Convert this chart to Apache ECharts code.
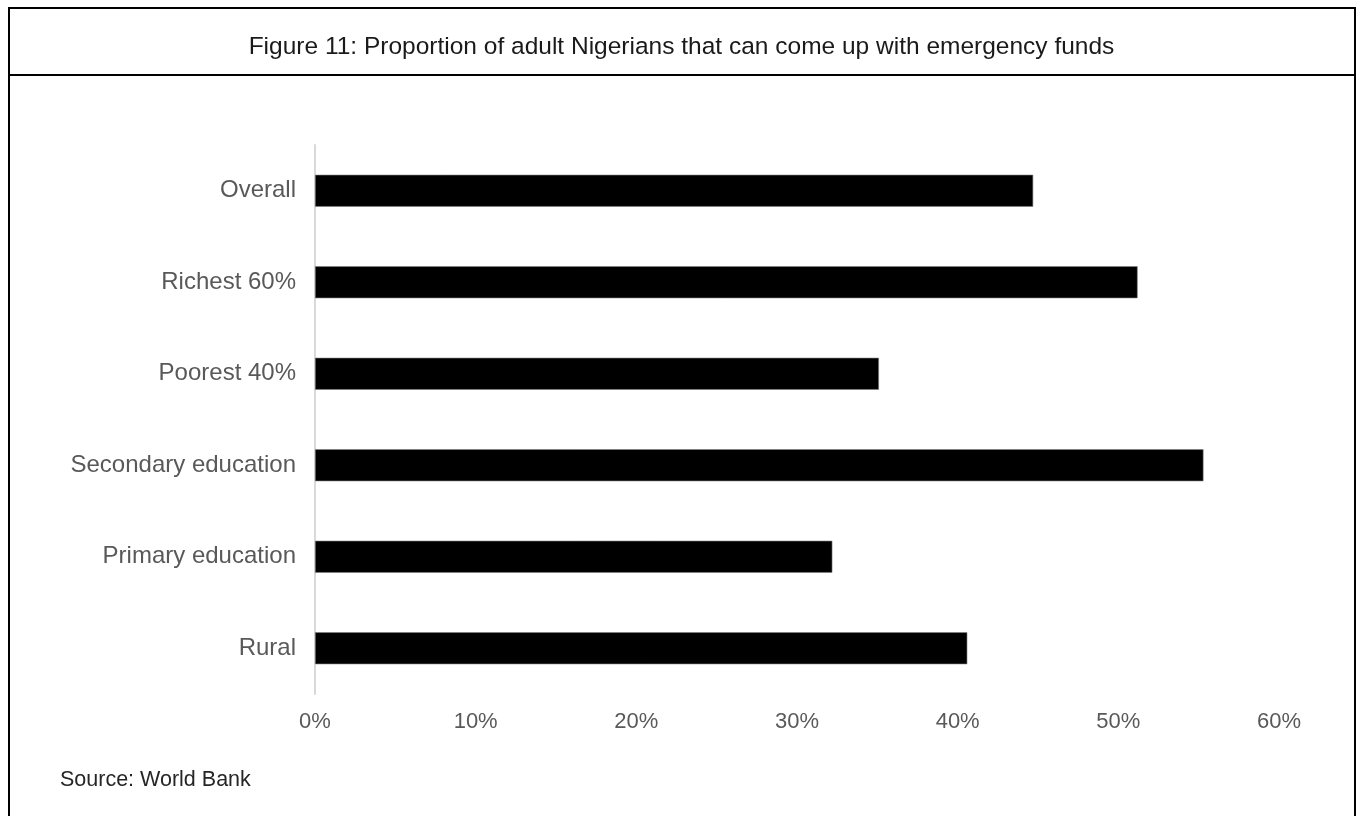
<!DOCTYPE html>
<html>
<head>
<meta charset="utf-8">
<script src="https://cdn.jsdelivr.net/npm/echarts@6/dist/echarts.min.js"></script>
<style>
html,body{margin:0;padding:0;background:#fff;}
#chart{width:1363px;height:816px;}
</style>
</head>
<body>
<div id="chart"></div>
<script>
const categories = ["Overall", "Richest 60%", "Poorest 40%", "Secondary education", "Primary education", "Rural"];
const values = [44.7, 51.2, 35.1, 55.3, 32.2, 40.6];
const xTicks = [0, 10, 20, 30, 40, 50, 60];
const titleText = "Figure 11: Proportion of adult Nigerians that can come up with emergency funds";
const sourceText = "Source: World Bank";

const chart = echarts.init(document.getElementById('chart'), null, {renderer: 'canvas'});
const FONT = '"Liberation Sans", Arial, sans-serif';
chart.setOption({
  animation: false,
  backgroundColor: '#ffffff',
  title: {
    text: titleText,
    left: 'center',
    top: 30,
    textStyle: {fontFamily: FONT, fontSize: 24.5, fontWeight: 'normal', color: '#1a1a1a'}
  },
  grid: {left: 315, right: 84, top: 145, bottom: 122, containLabel: false},
  xAxis: {
    type: 'value',
    min: xTicks[0],
    max: xTicks[xTicks.length - 1],
    interval: 10,
    axisLine: {show: false},
    axisTick: {show: false},
    splitLine: {show: false},
    axisLabel: {
      formatter: v => v + '%',
      margin: 17,
      fontFamily: FONT, fontSize: 22, color: '#595959'
    }
  },
  yAxis: {
    type: 'category',
    data: categories,
    inverse: true,
    axisLine: {show: true, lineStyle: {color: '#d9d9d9', width: 2}},
    axisTick: {show: false},
    axisLabel: {margin: 19, fontFamily: FONT, fontSize: 24, color: '#595959'}
  },
  series: [{
    type: 'bar',
    data: values,
    barWidth: 32,
    itemStyle: {color: '#000000', borderColor: '#7f7f7f', borderWidth: 0.6}
  }],
  graphic: [
    {type: 'rect', shape: {x: 9, y: 8, width: 1346, height: 830}, style: {fill: 'none', stroke: '#000', lineWidth: 2}, silent: true},
    {type: 'line', shape: {x1: 9, y1: 75, x2: 1355, y2: 75}, style: {stroke: '#000', lineWidth: 2}, silent: true},
    {type: 'text', left: 60, top: 769, style: {text: sourceText, font: '21.5px "Liberation Sans", Arial, sans-serif', fill: '#262626'}}
  ]
});
</script>
</body>
</html>
